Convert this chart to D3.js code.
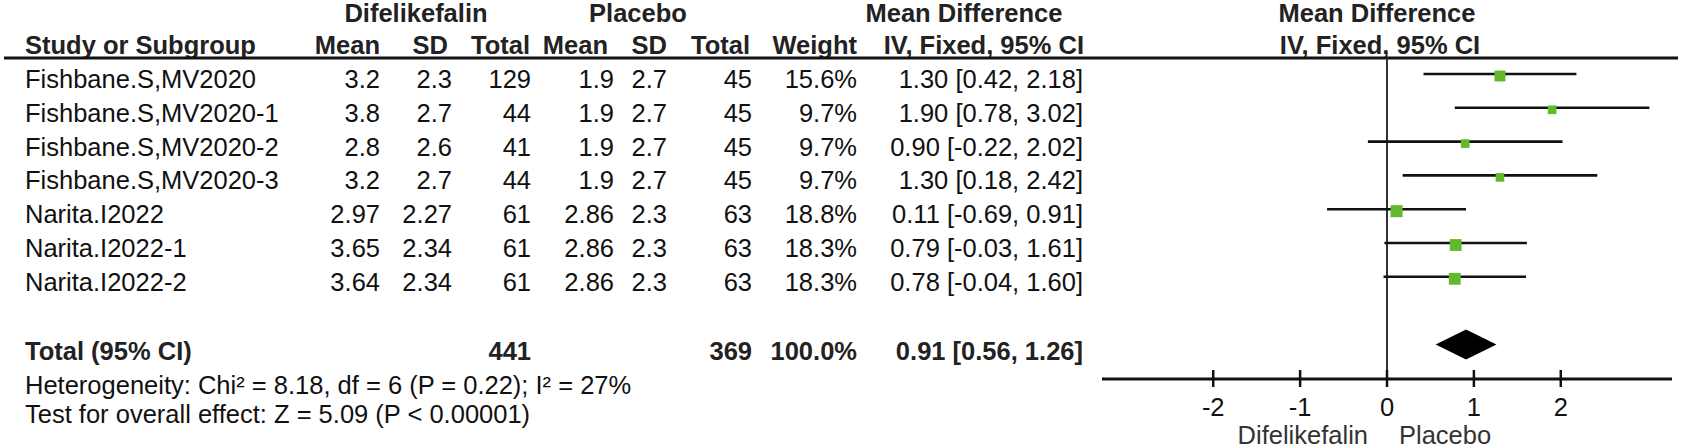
<!DOCTYPE html>
<html>
<head>
<meta charset="utf-8">
<script src="https://cdn.jsdelivr.net/npm/d3@7"></script>
<style>
  html, body { margin: 0; padding: 0; background: #fff; }
  svg { display: block; }
  text { font-family: "Liberation Sans", Arial, sans-serif; }
</style>
</head>
<body>
<svg id="chart" width="1699" height="448"></svg>
<script>
// ---- data ----
const studies = ["Fishbane.S,MV2020", "Fishbane.S,MV2020-1", "Fishbane.S,MV2020-2", "Fishbane.S,MV2020-3", "Narita.I2022", "Narita.I2022-1", "Narita.I2022-2"];
const difMean = [3.2, 3.8, 2.8, 3.2, 2.97, 3.65, 3.64];
const difSD = [2.3, 2.7, 2.6, 2.7, 2.27, 2.34, 2.34];
const difTotal = [129, 44, 41, 44, 61, 61, 61];
const plaMean = [1.9, 1.9, 1.9, 1.9, 2.86, 2.86, 2.86];
const plaSD = [2.7, 2.7, 2.7, 2.7, 2.3, 2.3, 2.3];
const plaTotal = [45, 45, 45, 45, 63, 63, 63];
const weight = [15.6, 9.7, 9.7, 9.7, 18.8, 18.3, 18.3];
const md = [1.30, 1.90, 0.90, 1.30, 0.11, 0.79, 0.78];
const ciLow = [0.42, 0.78, -0.22, 0.18, -0.69, -0.03, -0.04];
const ciHigh = [2.18, 3.02, 2.02, 2.42, 0.91, 1.61, 1.60];
const totalDif = 441;
const totalPla = 369;
const totalWeight = 100.0;
const pooled = [0.91, 0.56, 1.26]; // estimate, low, high
const axisTicks = [-2, -1, 0, 1, 2];
const heterogeneityText = "Heterogeneity: Chi² = 8.18, df = 6 (P = 0.22); I² = 27%";
const overallText = "Test for overall effect: Z = 5.09 (P < 0.00001)";
const favoursLeft = "Difelikefalin";
const favoursRight = "Placebo";

// ---- layout ----
const svg = d3.select("#chart");
const FS = 25.5;
const x = d3.scaleLinear().domain([-3.28, 3.28]).range([1102, 1672]);
const y = d3.scaleLinear().domain([0, 8]).range([74, 344.4]);
const side = d3.scaleSqrt().domain([0, 18.8]).range([0, 12]);
const f2 = v => v.toFixed(2);
const fmtCI = (m, l, h) => `${f2(m)} [${f2(l)}, ${f2(h)}]`;

const cols = {
  name: 25, dMean: 380, dSD: 452, dTot: 531,
  pMean: 614, pSD: 667, pTot: 752, wt: 857, ci: 1083
};

function txt(g, s, xx, yy, anchor, bold, fill) {
  return g.append("text").attr("x", xx).attr("y", yy)
    .attr("text-anchor", anchor || "start")
    .attr("font-size", FS)
    .attr("font-weight", bold ? "bold" : "normal")
    .attr("fill", fill || "#111")
    .text(s);
}

const head = svg.append("g");
// header row 1
txt(head, "Difelikefalin", 416, 22, "middle", true, "#222");
txt(head, "Placebo", 638, 22, "middle", true, "#222");
txt(head, "Mean Difference", 964, 22, "middle", true, "#222");
txt(head, "Mean Difference", 1377, 22, "middle", true, "#222");
// header row 2
const hy = 54;
txt(head, "Study or Subgroup", cols.name, hy, "start", true, "#222");
txt(head, "Mean", cols.dMean, hy, "end", true, "#222");
txt(head, "SD", cols.dSD - 4, hy, "end", true, "#222");
txt(head, "Total", cols.dTot - 1, hy, "end", true, "#222");
txt(head, "Mean", cols.pMean - 6, hy, "end", true, "#222");
txt(head, "SD", cols.pSD, hy, "end", true, "#222");
txt(head, "Total", cols.pTot - 2, hy, "end", true, "#222");
txt(head, "Weight", cols.wt, hy, "end", true, "#222");
txt(head, "IV, Fixed, 95% CI", cols.ci + 1, hy, "end", true, "#222");
txt(head, "IV, Fixed, 95% CI", 1380, hy, "middle", true, "#222");
// header rule
head.append("line").attr("x1", 4).attr("x2", 1678).attr("y1", 58).attr("y2", 58)
  .attr("stroke", "#111").attr("stroke-width", 3);

// ---- table rows ----
const rows = svg.append("g");
studies.forEach((s, i) => {
  const by = y(i) + 14;
  txt(rows, s, cols.name, by);
  txt(rows, String(difMean[i]), cols.dMean, by, "end");
  txt(rows, String(difSD[i]), cols.dSD, by, "end");
  txt(rows, String(difTotal[i]), cols.dTot, by, "end");
  txt(rows, String(plaMean[i]), cols.pMean, by, "end");
  txt(rows, String(plaSD[i]), cols.pSD, by, "end");
  txt(rows, String(plaTotal[i]), cols.pTot, by, "end");
  txt(rows, weight[i].toFixed(1) + "%", cols.wt, by, "end");
  txt(rows, fmtCI(md[i], ciLow[i], ciHigh[i]), cols.ci, by, "end");
});

// total row
const ty = y(8) + 16;
txt(rows, "Total (95% CI)", cols.name, ty, "start", true, "#222");
txt(rows, String(totalDif), cols.dTot, ty, "end", true, "#222");
txt(rows, String(totalPla), cols.pTot, ty, "end", true, "#222");
txt(rows, totalWeight.toFixed(1) + "%", cols.wt, ty, "end", true, "#222");
txt(rows, fmtCI(pooled[0], pooled[1], pooled[2]), cols.ci, ty, "end", true, "#222");
txt(rows, heterogeneityText, cols.name, 394);
txt(rows, overallText, cols.name, 423);

// ---- forest plot ----
const plot = svg.append("g");
const axisY = 379;
// zero line
plot.append("line").attr("x1", x(0)).attr("x2", x(0)).attr("y1", 58).attr("y2", axisY)
  .attr("stroke", "#333").attr("stroke-width", 2);
// CI lines
plot.selectAll("line.ci").data(studies).enter().append("line").attr("class", "ci")
  .attr("x1", (d, i) => x(ciLow[i])).attr("x2", (d, i) => x(ciHigh[i]))
  .attr("y1", (d, i) => y(i)).attr("y2", (d, i) => y(i))
  .attr("stroke", "#111").attr("stroke-width", 2.6);
// squares
plot.selectAll("rect.sq").data(studies).enter().append("rect").attr("class", "sq")
  .attr("x", (d, i) => x(md[i]) - side(weight[i]) / 2)
  .attr("y", (d, i) => y(i) + 2 - side(weight[i]) / 2)
  .attr("width", (d, i) => side(weight[i]))
  .attr("height", (d, i) => side(weight[i]))
  .attr("fill", "#63b92c");
// diamond
const dy = y(8);
plot.append("path")
  .attr("d", `M${x(pooled[1])},${dy} L${x(pooled[0])},${dy - 15} L${x(pooled[2])},${dy} L${x(pooled[0])},${dy + 15} Z`)
  .attr("fill", "#000");

// axis
const axisG = plot.append("g").attr("transform", `translate(0,${axisY})`);
axisG.append("line").attr("x1", x.range()[0]).attr("x2", x.range()[1])
  .attr("stroke", "#111").attr("stroke-width", 3);
axisG.selectAll("line.tick").data(axisTicks).enter().append("line").attr("class", "tick")
  .attr("x1", d => x(d)).attr("x2", d => x(d)).attr("y1", -9).attr("y2", 8)
  .attr("stroke", "#111").attr("stroke-width", 2.5);
axisG.selectAll("text.tl").data(axisTicks).enter().append("text").attr("class", "tl")
  .attr("x", d => x(d)).attr("y", 37).attr("text-anchor", "middle")
  .attr("font-size", FS).attr("fill", "#111").text(d => d < 0 ? "-" + Math.abs(d) : String(d));

txt(plot, favoursLeft, x(0) - 19, 444, "end", false, "#333");
txt(plot, favoursRight, x(0) + 12, 444, "start", false, "#333");
</script>
</body>
</html>
